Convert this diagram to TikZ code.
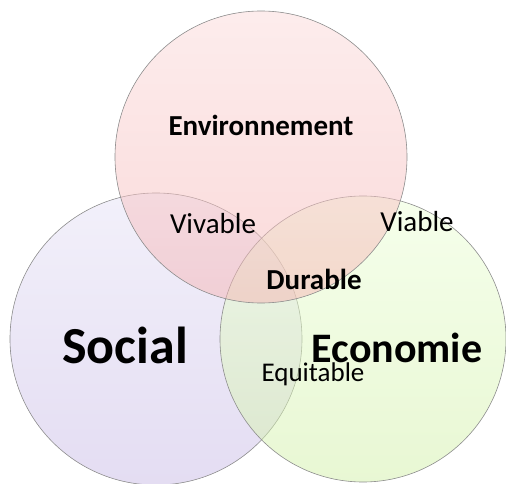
\documentclass[tikz,border=0pt]{standalone}
\usepackage{fontspec}
\setmainfont{Carlito}
\usetikzlibrary{positioning}

\definecolor{envtop}{RGB}{251,218,218}
\definecolor{envbot}{RGB}{245,180,180}
\definecolor{soctop}{RGB}{230,226,246}
\definecolor{socbot}{RGB}{201,187,230}
\definecolor{ecotop}{RGB}{236,255,216}
\definecolor{ecobot}{RGB}{210,240,168}

\tikzset{
	venn/.style={circle, draw=black!45, line width=0.6pt, inner sep=0pt, fill opacity=0.5},
	titre/.style={font=\bfseries\fontsize{#1}{#1}\selectfont, anchor=base, inner sep=0pt},
	mot/.style={font=\fontsize{#1}{#1}\selectfont, anchor=base, inner sep=0pt}
}

\begin{document}
\begin{tikzpicture}[x=1pt,y=-1pt]
	\useasboundingbox (0,0) rectangle (506,484);
	% les trois cercles
	\node[venn, minimum size=292pt, top color=soctop, bottom color=socbot] (social) at (156,339) {};
	\node[venn, minimum size=286pt, top color=ecotop, bottom color=ecobot] (eco) at (363,339) {};
	\node[venn, minimum size=292pt, top color=envtop, bottom color=envbot] (env) at (261,157) {};

	% titres
	\node[titre=29] (tenv) at (261,136) {Environnement};
	\node[titre=52] (tsoc) at (125,363) {Social};
	\node[titre=42] (teco) at (397,362) {Economie};
	\node[titre=29] (tdur) at (314,289) {Durable};

	% intersections
	\node[mot=29] (viv) at (213,233) {Vivable};
	\node[mot=29] (via) at (417,231) {Viable};
	\node[mot=27] (equ) at (313,381) {Equitable};
\end{tikzpicture}
\end{document}
